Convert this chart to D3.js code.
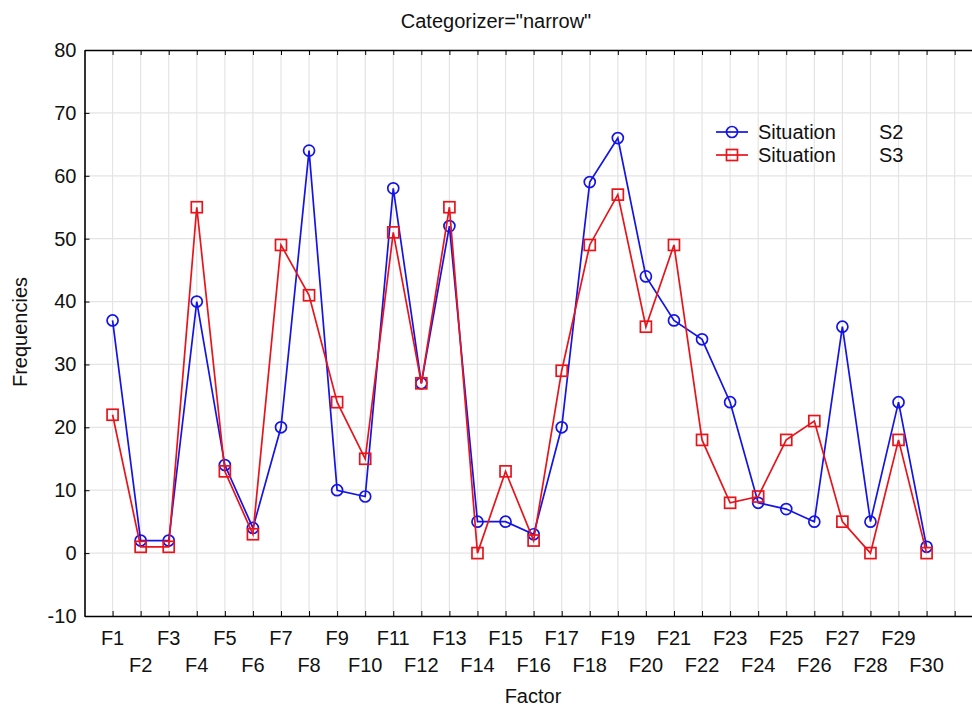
<!DOCTYPE html>
<html>
<head>
<meta charset="utf-8">
<script src="https://cdnjs.cloudflare.com/ajax/libs/d3/7.8.5/d3.min.js"></script>
<style>
    body { margin: 0; background: #fff; }
    svg { font-family: Arial, "Liberation Sans", sans-serif; }
</style>
</head>
<body>
<div id="chart"></div>
<script>
// chart data
const factors = ["F1","F2","F3","F4","F5","F6","F7","F8","F9","F10",
    "F11","F12","F13","F14","F15","F16","F17","F18","F19","F20",
    "F21","F22","F23","F24","F25","F26","F27","F28","F29","F30"];
const situationS2 = [37, 2, 2, 40, 14, 4, 20, 64, 10, 9,
    58, 27, 52, 5, 5, 3, 20, 59, 66, 44,
    37, 34, 24, 8, 7, 5, 36, 5, 24, 1];
const situationS3 = [22, 1, 1, 55, 13, 3, 49, 41, 24, 15,
    51, 27, 55, 0, 13, 2, 29, 49, 57, 36,
    49, 18, 8, 9, 18, 21, 5, 0, 18, 0];
const yTicks = [-10, 0, 10, 20, 30, 40, 50, 60, 70, 80];

const chartW = 972, chartH = 708;
const plotLeft = 84.5, plotTop = 50, plotBottom = 616;
const step = 28.07;

const svg = d3.select("#chart").append("svg")
    .attr("width", chartW)
    .attr("height", chartH);

// x: category index (1..30), plot runs past the right edge of the picture
const x = d3.scaleLinear().domain([0, 32]).range([plotLeft, plotLeft + 32 * step]);
const y = d3.scaleLinear().domain([-10, 80]).range([plotBottom, plotTop]);
const tickIdx = d3.range(1, 32);

// grid
svg.append("g").selectAll("line")
    .data(tickIdx).enter().append("line")
    .attr("x1", d => x(d)).attr("x2", d => x(d))
    .attr("y1", plotTop).attr("y2", plotBottom)
    .attr("stroke", "#e4e4e4").attr("stroke-width", 1.2);
svg.append("g").selectAll("line")
    .data(yTicks.slice(1, -1)).enter().append("line")
    .attr("x1", plotLeft).attr("x2", chartW)
    .attr("y1", d => y(d)).attr("y2", d => y(d))
    .attr("stroke", "#e4e4e4").attr("stroke-width", 1.2);

// axes (ticks point inward)
svg.append("g")
    .attr("transform", `translate(0,${plotTop})`)
    .call(d3.axisTop(x).tickValues(tickIdx).tickSize(-5).tickSizeOuter(0).tickFormat(""))
    .call(g => g.select(".domain").attr("stroke-width", 1.6));
svg.append("g")
    .attr("transform", `translate(0,${plotBottom})`)
    .call(d3.axisBottom(x).tickValues(tickIdx).tickSize(-5).tickSizeOuter(0).tickFormat(""))
    .call(g => g.select(".domain").attr("stroke-width", 1.6));
svg.append("g")
    .attr("transform", `translate(${plotLeft},0)`)
    .call(d3.axisLeft(y).tickValues(yTicks).tickSize(-5).tickSizeOuter(0).tickPadding(8).tickFormat(d => String(d)))
    .call(g => g.select(".domain").attr("stroke-width", 1.6))
    .call(g => g.selectAll("text").attr("font-size", 20).attr("fill", "#111"));

// x labels in two rows
svg.append("g").selectAll("text")
    .data(factors).enter().append("text")
    .attr("x", (d, i) => x(i + 1))
    .attr("y", (d, i) => i % 2 === 0 ? 645 : 672)
    .attr("text-anchor", "middle")
    .attr("font-size", 20)
    .attr("fill", "#111")
    .text(d => d);

// titles
svg.append("text")
    .attr("x", 496).attr("y", 28)
    .attr("text-anchor", "middle").attr("font-size", 20).attr("fill", "#111")
    .text('Categorizer="narrow"');
svg.append("text")
    .attr("x", 533).attr("y", 703)
    .attr("text-anchor", "middle").attr("font-size", 20).attr("fill", "#111")
    .text("Factor");
svg.append("text")
    .attr("transform", "translate(27,332) rotate(-90)")
    .attr("text-anchor", "middle").attr("font-size", 20).attr("fill", "#111")
    .text("Frequencies");

// series
const series = [
    {name: "S2", values: situationS2, color: "#1414e6", shape: "circle"},
    {name: "S3", values: situationS3, color: "#e8141c", shape: "square"}
];
const line = d3.line().x((d, i) => x(i + 1)).y(d => y(d));

function drawMarker(g, shape, color) {
    if (shape === "circle") {
        g.append("circle").attr("r", 5.5)
            .attr("fill", "none").attr("stroke", color).attr("stroke-width", 1.7);
    } else {
        g.append("rect").attr("x", -5.5).attr("y", -5.5)
            .attr("width", 11).attr("height", 11)
            .attr("fill", "none").attr("stroke", color).attr("stroke-width", 1.7);
    }
}

series.forEach(s => {
    svg.append("path")
        .datum(s.values)
        .attr("d", line)
        .attr("fill", "none")
        .attr("stroke", s.color)
        .attr("stroke-width", 1.7);
    svg.append("g").selectAll("g")
        .data(s.values).enter().append("g")
        .attr("transform", (d, i) => `translate(${x(i + 1)},${y(d)})`)
        .each(function () { drawMarker(d3.select(this), s.shape, s.color); });
});

// legend
const legend = svg.append("g").attr("transform", "translate(716,132)");
series.forEach((s, i) => {
    const row = legend.append("g").attr("transform", `translate(0,${i * 23})`);
    row.append("line").attr("x1", 0).attr("x2", 32)
        .attr("stroke", s.color).attr("stroke-width", 1.7);
    const m = row.append("g").attr("transform", "translate(16,0)");
    drawMarker(m, s.shape, s.color);
    row.append("text").attr("x", 42).attr("y", 7)
        .attr("font-size", 20).attr("fill", "#111").text("Situation");
    row.append("text").attr("x", 163).attr("y", 7)
        .attr("font-size", 20).attr("fill", "#111").text(s.name);
});
</script>
</body>
</html>
